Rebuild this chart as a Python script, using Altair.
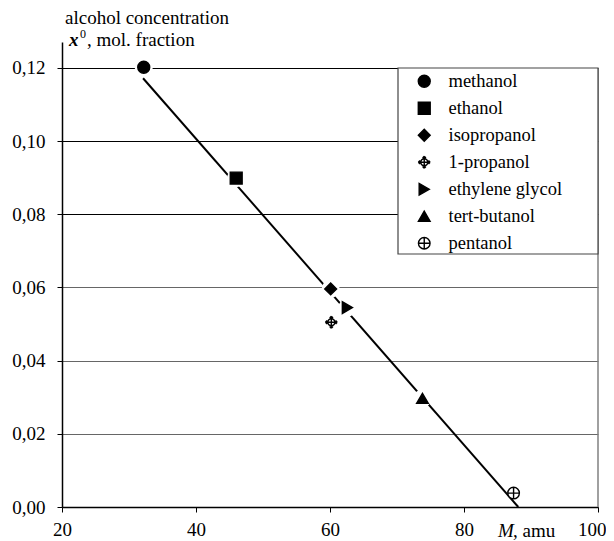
import altair as alt
import pandas as pd

# ---- data ----
names = ["methanol", "ethanol", "isopropanol", "1-propanol",
         "ethylene glycol", "tert-butanol", "pentanol"]
mass = [32.2, 46.0, 60.1, 60.2, 62.6, 73.8, 87.4]
conc = [0.1202, 0.0899, 0.0596, 0.0505, 0.0545, 0.0297, 0.0038]
filled_names = ["methanol", "ethanol", "isopropanol", "ethylene glycol", "tert-butanol"]

line_mass = [32.1, 88.1]
line_conc = [0.1172, 0.0]

y_ticks = [0.0, 0.02, 0.04, 0.06, 0.08, 0.10, 0.12]
x_ticks = [20, 40, 60, 80, 100]

propanol_path = ("M-0.6,0A0.6,0.6,0,1,1,0.6,0A0.6,0.6,0,1,1,-0.6,0Z"
                 "M-1,0L1,0M0,-1L0,1"
                 "M-1,0L-0.72,-0.28M-1,0L-0.72,0.28M1,0L0.72,-0.28M1,0L0.72,0.28"
                 "M0,-1L-0.28,-0.72M0,-1L0.28,-0.72M0,1L-0.28,0.72M0,1L0.28,0.72")
pentanol_path = "M-1,0A1,1,0,1,1,1,0A1,1,0,1,1,-1,0ZM-1,0L1,0M0,-1L0,1"
shapes = ["circle", "square", "diamond", propanol_path,
          "triangle-right", "triangle-up", pentanol_path]
fills = ["black", "black", "black", "white", "black", "black", "white"]
strokes = ["black"] * 7
sizes = [143, 135, 290, 250, 320, 200, 115]

df = pd.DataFrame({"name": names, "M": mass, "x0": conc})
line_df = pd.DataFrame({"M": line_mass, "x0": line_conc})

FONT = "Times New Roman, Liberation Serif, serif"
FS = 19

x_scale = alt.Scale(domain=[20, 100], nice=False, zero=False)
y_scale = alt.Scale(domain=[0, 0.1271], nice=False)

x_enc = alt.X("M:Q", scale=x_scale, title=None,
              axis=alt.Axis(values=x_ticks, format="d", grid=False, labelFlush=False,
                            labelAlign={"condition": {"test": "datum.value == 100", "value": "right"},
                                        "value": "center"},
                            labelOffset={"condition": {"test": "datum.value == 100", "value": 8},
                                         "value": 0},
                            tickSize=5, labelPadding=8, domainColor="black",
                            domainWidth=1.5, tickColor="black", labelFont=FONT,
                            labelFontSize=FS, labelColor="black"))
y_enc = alt.Y("x0:Q", scale=y_scale, title=None,
              axis=alt.Axis(values=y_ticks,
                            labelExpr="replace(format(datum.value, '.2f'), '.', ',')",
                            grid=True,
                            gridColor={"condition": {"test": "datum.value >= 0.07", "value": "black"},
                                       "value": "#666"},
                            gridWidth=1.2, tickSize=5, labelPadding=12,
                            domainColor="black", domainWidth=1.5, tickColor="black",
                            labelFont=FONT, labelFontSize=FS, labelColor="black"))

shape_scale = alt.Scale(domain=names, range=shapes)
fill_scale = alt.Scale(domain=names, range=fills)
stroke_scale = alt.Scale(domain=names, range=strokes)
size_scale = alt.Scale(domain=names, range=sizes)

border = alt.Chart(pd.DataFrame({"a": [0]})).mark_rule(color="#808080", strokeWidth=1.5).encode(
    x=alt.datum(100, scale=x_scale), y=alt.datum(0), y2=alt.datum(0.12))

line = alt.Chart(line_df).mark_line(color="black", strokeWidth=2).encode(x=x_enc, y=y_enc)

legend_box = alt.Chart(pd.DataFrame({"a": [0]})).mark_rect(
    fill="white", stroke="#444", strokeWidth=1.2).encode(
    x=alt.value(336), x2=alt.value(536), y=alt.value(26), y2=alt.value(212))

halo = alt.Chart(df).transform_filter(
    alt.FieldOneOfPredicate(field="name", oneOf=filled_names)
).mark_circle(color="white", size=330, opacity=1).encode(
    x=alt.X("M:Q", scale=x_scale), y=alt.Y("x0:Q", scale=y_scale))

legend = alt.Legend(title=None, orient="none", legendX=353, legendY=30,
                    labelFont=FONT, labelFontSize=18.5, labelColor="black",
                    labelOffset=15, rowPadding=8, padding=0,
                    symbolStrokeWidth=1.4)

points = alt.Chart(df).mark_point(filled=True, strokeWidth=1.4, opacity=1).encode(
    x=alt.X("M:Q", scale=x_scale), y=alt.Y("x0:Q", scale=y_scale),
    shape=alt.Shape("name:N", scale=shape_scale, legend=legend),
    fill=alt.Fill("name:N", scale=fill_scale, legend=legend),
    stroke=alt.Stroke("name:N", scale=stroke_scale, legend=legend),
    size=alt.Size("name:N", scale=size_scale, legend=legend))

t1 = alt.Chart(pd.DataFrame({"t": ["alcohol concentration"]})).mark_text(
    align="left", baseline="middle", font=FONT, fontSize=FS, color="black").encode(
    text="t:N", x=alt.value(3), y=alt.value(-24))
t2 = alt.Chart(pd.DataFrame({"t": ["x"]})).mark_text(
    align="left", baseline="middle", font=FONT, fontSize=FS, fontStyle="italic",
    fontWeight="bold", color="black").encode(text="t:N", x=alt.value(7), y=alt.value(-2))
t3 = alt.Chart(pd.DataFrame({"t": ["0"]})).mark_text(
    align="left", baseline="middle", font=FONT, fontSize=12, color="black").encode(
    text="t:N", x=alt.value(18), y=alt.value(-8))
t4 = alt.Chart(pd.DataFrame({"t": [", mol. fraction"]})).mark_text(
    align="left", baseline="middle", font=FONT, fontSize=FS, color="black").encode(
    text="t:N", x=alt.value(25), y=alt.value(-2))
t5 = alt.Chart(pd.DataFrame({"t": ["M"]})).mark_text(
    align="left", baseline="middle", font=FONT, fontSize=FS, fontStyle="italic",
    color="black").encode(text="t:N", x=alt.value(436), y=alt.value(24 + 465))
t6 = alt.Chart(pd.DataFrame({"t": [", amu"]})).mark_text(
    align="left", baseline="middle", font=FONT, fontSize=FS, color="black").encode(
    text="t:N", x=alt.value(451), y=alt.value(24 + 465))

chart = alt.layer(border, line, legend_box, halo, points, t1, t2, t3, t4, t5, t6).properties(
    width=536, height=465,
    autosize=alt.AutoSizeParams(type="none"),
    padding={"left": 54, "top": 34, "right": 8, "bottom": 35},
    background="white"
).configure_view(stroke=None)

chart.save("out.html", embed_options={"renderer": "svg", "actions": False})
